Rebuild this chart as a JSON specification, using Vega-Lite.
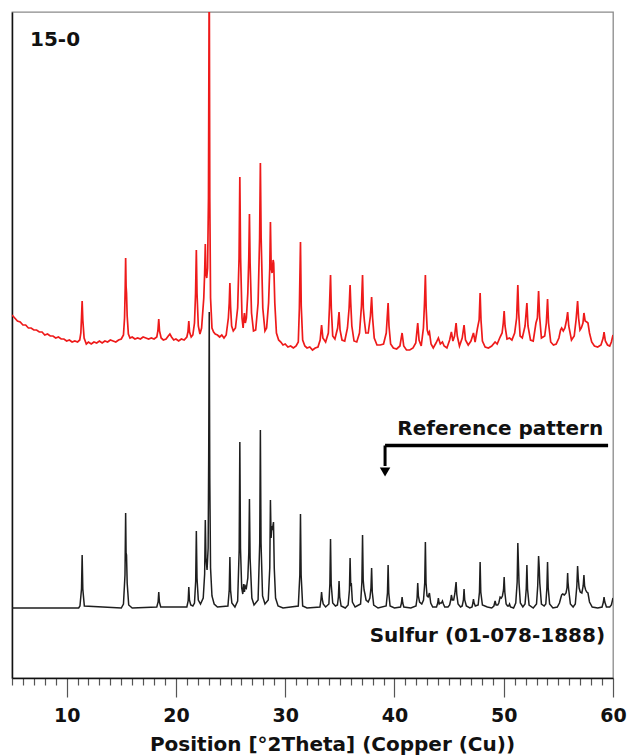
{
  "$schema": "https://vega.github.io/schema/vega-lite/v6.json",
  "width": 601,
  "height": 666,
  "autosize": "none",
  "padding": {"left": 12, "top": 12, "right": 16, "bottom": 77},
  "background": "white",
  "config": {
    "view": {"stroke": "#8a8a8a", "strokeWidth": 1.3},
    "font": "DejaVu Sans"
  },
  "datasets": {
    "ref": [
      {"t":5,"i":70},{"t":11.1,"i":70},{"t":11.22,"i":72},{"t":11.36,"i":89},{"t":11.42,"i":123},{"t":11.48,"i":89},{"t":11.62,"i":72},{"t":15.0,"i":70},{"t":15.2,"i":74},{"t":15.34,"i":103},{"t":15.4,"i":165},{"t":15.44,"i":125},{"t":15.48,"i":123},{"t":15.54,"i":95},{"t":15.68,"i":73},{"t":16.0,"i":70},{"t":18.25,"i":71},{"t":18.37,"i":76},{"t":18.43,"i":86},{"t":18.49,"i":76},{"t":18.61,"i":71},{"t":21.0,"i":71},{"t":21.12,"i":77},{"t":21.18,"i":91},{"t":21.24,"i":78},{"t":21.36,"i":73},{"t":21.55,"i":72},{"t":21.7,"i":75},{"t":21.81,"i":97},{"t":21.87,"i":147},{"t":21.93,"i":100},{"t":22.05,"i":78},{"t":22.25,"i":74},{"t":22.5,"i":80},{"t":22.63,"i":104},{"t":22.69,"i":158},{"t":22.75,"i":120},{"t":22.85,"i":108},{"t":22.95,"i":130},{"t":23.0,"i":220},{"t":23.05,"i":366},{"t":23.1,"i":200},{"t":23.17,"i":110},{"t":23.3,"i":82},{"t":23.5,"i":74},{"t":23.8,"i":71},{"t":24.76,"i":72},{"t":24.88,"i":88},{"t":24.94,"i":121},{"t":25.0,"i":88},{"t":25.12,"i":75},{"t":25.4,"i":71},{"t":25.65,"i":77},{"t":25.79,"i":128},{"t":25.85,"i":236},{"t":25.91,"i":130},{"t":26.02,"i":90},{"t":26.12,"i":84},{"t":26.2,"i":94},{"t":26.27,"i":86},{"t":26.35,"i":92},{"t":26.45,"i":90},{"t":26.58,"i":100},{"t":26.67,"i":125},{"t":26.73,"i":179},{"t":26.79,"i":120},{"t":26.95,"i":80},{"t":27.15,"i":73},{"t":27.52,"i":78},{"t":27.67,"i":135},{"t":27.73,"i":248},{"t":27.79,"i":135},{"t":27.93,"i":82},{"t":28.15,"i":74},{"t":28.45,"i":78},{"t":28.59,"i":110},{"t":28.65,"i":178},{"t":28.71,"i":140},{"t":28.78,"i":152},{"t":28.85,"i":150},{"t":28.93,"i":156},{"t":29.0,"i":110},{"t":29.12,"i":80},{"t":29.35,"i":72},{"t":29.8,"i":70},{"t":31.2,"i":72},{"t":31.34,"i":103},{"t":31.4,"i":164},{"t":31.46,"i":103},{"t":31.6,"i":72},{"t":32.0,"i":70},{"t":33.18,"i":71},{"t":33.27,"i":78},{"t":33.33,"i":86},{"t":33.39,"i":79},{"t":33.48,"i":74},{"t":33.7,"i":71},{"t":34.0,"i":74},{"t":34.09,"i":94},{"t":34.15,"i":139},{"t":34.21,"i":94},{"t":34.35,"i":75},{"t":34.6,"i":72},{"t":34.78,"i":73},{"t":34.87,"i":81},{"t":34.93,"i":97},{"t":34.99,"i":81},{"t":35.12,"i":72},{"t":35.5,"i":70},{"t":35.76,"i":73},{"t":35.88,"i":88},{"t":35.94,"i":120},{"t":36.0,"i":92},{"t":36.05,"i":95},{"t":36.15,"i":76},{"t":36.4,"i":71},{"t":36.9,"i":74},{"t":37.02,"i":96},{"t":37.08,"i":143},{"t":37.14,"i":98},{"t":37.22,"i":88},{"t":37.3,"i":84},{"t":37.4,"i":78},{"t":37.6,"i":76},{"t":37.75,"i":80},{"t":37.85,"i":90},{"t":37.91,"i":110},{"t":37.97,"i":86},{"t":38.1,"i":73},{"t":38.5,"i":70},{"t":39.24,"i":72},{"t":39.36,"i":85},{"t":39.42,"i":113},{"t":39.48,"i":85},{"t":39.6,"i":72},{"t":40.0,"i":70},{"t":40.55,"i":71},{"t":40.64,"i":75},{"t":40.7,"i":81},{"t":40.76,"i":75},{"t":40.86,"i":71},{"t":41.5,"i":70},{"t":41.97,"i":72},{"t":42.07,"i":80},{"t":42.13,"i":95},{"t":42.19,"i":82},{"t":42.3,"i":76},{"t":42.5,"i":74},{"t":42.66,"i":78},{"t":42.77,"i":95},{"t":42.83,"i":136},{"t":42.89,"i":95},{"t":42.98,"i":82},{"t":43.08,"i":81},{"t":43.2,"i":85},{"t":43.32,"i":75},{"t":43.5,"i":71},{"t":43.85,"i":71},{"t":43.96,"i":75},{"t":44.02,"i":80},{"t":44.1,"i":74},{"t":44.2,"i":75},{"t":44.3,"i":75},{"t":44.39,"i":77},{"t":44.48,"i":74},{"t":44.6,"i":71},{"t":44.9,"i":71},{"t":45.05,"i":73},{"t":45.15,"i":78},{"t":45.21,"i":83},{"t":45.3,"i":78},{"t":45.42,"i":78},{"t":45.52,"i":84},{"t":45.64,"i":96},{"t":45.7,"i":84},{"t":45.82,"i":74},{"t":46.05,"i":71},{"t":46.2,"i":72},{"t":46.31,"i":78},{"t":46.37,"i":89},{"t":46.43,"i":78},{"t":46.58,"i":72},{"t":46.9,"i":70},{"t":47.1,"i":71},{"t":47.18,"i":75},{"t":47.23,"i":79},{"t":47.29,"i":75},{"t":47.4,"i":72},{"t":47.66,"i":73},{"t":47.78,"i":86},{"t":47.84,"i":116},{"t":47.9,"i":86},{"t":48.05,"i":73},{"t":48.5,"i":71},{"t":48.9,"i":70},{"t":49.1,"i":72},{"t":49.21,"i":77},{"t":49.3,"i":73},{"t":49.45,"i":73},{"t":49.55,"i":75},{"t":49.67,"i":81},{"t":49.78,"i":80},{"t":49.88,"i":82},{"t":49.98,"i":88},{"t":50.04,"i":101},{"t":50.1,"i":86},{"t":50.22,"i":74},{"t":50.35,"i":72},{"t":50.45,"i":72},{"t":50.53,"i":74},{"t":50.62,"i":71},{"t":50.9,"i":70},{"t":51.1,"i":75},{"t":51.23,"i":96},{"t":51.29,"i":135},{"t":51.33,"i":120},{"t":51.4,"i":95},{"t":51.52,"i":75},{"t":51.75,"i":71},{"t":51.95,"i":74},{"t":52.06,"i":89},{"t":52.12,"i":113},{"t":52.18,"i":89},{"t":52.32,"i":73},{"t":52.7,"i":70},{"t":53.0,"i":74},{"t":53.11,"i":92},{"t":53.19,"i":122},{"t":53.25,"i":110},{"t":53.3,"i":95},{"t":53.45,"i":74},{"t":53.7,"i":72},{"t":53.85,"i":74},{"t":53.95,"i":90},{"t":54.01,"i":116},{"t":54.07,"i":90},{"t":54.2,"i":74},{"t":54.5,"i":70},{"t":54.9,"i":71},{"t":55.1,"i":75},{"t":55.22,"i":80},{"t":55.3,"i":83},{"t":55.4,"i":84},{"t":55.55,"i":83},{"t":55.7,"i":85},{"t":55.79,"i":90},{"t":55.85,"i":105},{"t":55.88,"i":96},{"t":55.95,"i":88},{"t":56.1,"i":74},{"t":56.35,"i":71},{"t":56.55,"i":74},{"t":56.69,"i":92},{"t":56.76,"i":112},{"t":56.82,"i":100},{"t":56.9,"i":90},{"t":57.0,"i":86},{"t":57.15,"i":85},{"t":57.27,"i":92},{"t":57.34,"i":103},{"t":57.4,"i":92},{"t":57.5,"i":88},{"t":57.6,"i":86},{"t":57.71,"i":85},{"t":57.85,"i":76},{"t":58.1,"i":71},{"t":58.6,"i":70},{"t":59.0,"i":71},{"t":59.12,"i":76},{"t":59.18,"i":81},{"t":59.25,"i":76},{"t":59.4,"i":71},{"t":59.7,"i":71},{"t":59.85,"i":73},{"t":60.0,"i":80}
    ],
    "exp": [
      {"t":5.0,"i":363},{"t":5.25,"i":360},{"t":5.5,"i":357},{"t":5.75,"i":356},{"t":6.0,"i":353},{"t":6.25,"i":353},{"t":6.5,"i":350},{"t":6.75,"i":350},{"t":7.0,"i":348},{"t":7.25,"i":348},{"t":7.5,"i":346},{"t":7.75,"i":346},{"t":8.0,"i":343},{"t":8.25,"i":344},{"t":8.5,"i":342},{"t":8.75,"i":342},{"t":9.0,"i":340},{"t":9.25,"i":341},{"t":9.5,"i":339},{"t":9.75,"i":339},{"t":10.0,"i":337},{"t":10.25,"i":338},{"t":10.5,"i":336},{"t":10.75,"i":337},{"t":11.0,"i":336},{"t":11.2,"i":338},
      {"t":11.3,"i":345},{"t":11.36,"i":360},{"t":11.42,"i":377},{"t":11.48,"i":358},{"t":11.6,"i":340},{"t":11.8,"i":334},{"t":12.0,"i":336},{"t":12.25,"i":334},{"t":12.5,"i":336},{"t":12.75,"i":335},{"t":13.0,"i":337},{"t":13.25,"i":335},{"t":13.5,"i":337},{"t":13.75,"i":336},{"t":14.0,"i":338},{"t":14.25,"i":337},{"t":14.5,"i":336},{"t":14.75,"i":338},{"t":15.0,"i":339},{"t":15.2,"i":343},
      {"t":15.3,"i":360},{"t":15.36,"i":390},{"t":15.4,"i":420},{"t":15.44,"i":392},{"t":15.48,"i":385},{"t":15.54,"i":362},{"t":15.65,"i":344},{"t":15.8,"i":340},{"t":16.0,"i":341},{"t":16.25,"i":339},{"t":16.5,"i":340},{"t":16.75,"i":339},{"t":17.0,"i":341},{"t":17.25,"i":340},{"t":17.5,"i":339},{"t":17.75,"i":340},{"t":18.0,"i":339},{"t":18.25,"i":341},
      {"t":18.35,"i":347},{"t":18.43,"i":359},{"t":18.5,"i":347},{"t":18.65,"i":340},{"t":18.85,"i":338},{"t":19.1,"i":339},{"t":19.3,"i":342},{"t":19.45,"i":344},{"t":19.6,"i":341},{"t":19.8,"i":338},{"t":20.0,"i":339},{"t":20.25,"i":337},{"t":20.5,"i":339},{"t":20.75,"i":338},{"t":21.0,"i":341},
      {"t":21.1,"i":346},{"t":21.18,"i":357},{"t":21.25,"i":346},{"t":21.4,"i":341},{"t":21.55,"i":343},
      {"t":21.7,"i":355},{"t":21.8,"i":385},{"t":21.87,"i":428},{"t":21.93,"i":385},{"t":22.05,"i":352},{"t":22.2,"i":344},{"t":22.35,"i":350},
      {"t":22.55,"i":380},{"t":22.63,"i":405},{"t":22.69,"i":434},{"t":22.74,"i":405},{"t":22.82,"i":400},{"t":22.9,"i":410},
      {"t":22.98,"i":480},{"t":23.05,"i":720},{"t":23.1,"i":480},{"t":23.17,"i":380},{"t":23.3,"i":350},{"t":23.45,"i":346},{"t":23.6,"i":344},{"t":23.8,"i":343},{"t":24.0,"i":341},{"t":24.2,"i":343},{"t":24.4,"i":340},{"t":24.6,"i":343},
      {"t":24.8,"i":360},{"t":24.88,"i":375},{"t":24.94,"i":395},{"t":25.0,"i":372},{"t":25.1,"i":352},{"t":25.25,"i":347},{"t":25.45,"i":350},
      {"t":25.65,"i":370},{"t":25.78,"i":420},{"t":25.85,"i":501},{"t":25.92,"i":420},{"t":26.05,"i":360},{"t":26.15,"i":350},
      {"t":26.22,"i":360},{"t":26.27,"i":365},{"t":26.35,"i":355},{"t":26.45,"i":360},
      {"t":26.58,"i":385},{"t":26.67,"i":420},{"t":26.73,"i":464},{"t":26.79,"i":415},{"t":26.92,"i":365},{"t":27.1,"i":347},{"t":27.3,"i":348},
      {"t":27.52,"i":375},{"t":27.66,"i":440},{"t":27.73,"i":515},{"t":27.8,"i":440},{"t":27.95,"i":370},{"t":28.15,"i":347},{"t":28.3,"i":350},
      {"t":28.48,"i":375},{"t":28.59,"i":410},{"t":28.65,"i":456},{"t":28.72,"i":410},{"t":28.8,"i":405},{"t":28.9,"i":418},{"t":28.95,"i":415},{"t":29.05,"i":375},{"t":29.2,"i":345},{"t":29.4,"i":338},{"t":29.6,"i":336},{"t":29.8,"i":333},{"t":30.0,"i":334},{"t":30.25,"i":331},{"t":30.5,"i":332},{"t":30.75,"i":330},{"t":31.0,"i":332},{"t":31.2,"i":336},
      {"t":31.3,"i":370},{"t":31.4,"i":436},{"t":31.47,"i":372},{"t":31.6,"i":338},{"t":31.8,"i":332},{"t":32.0,"i":330},{"t":32.25,"i":331},{"t":32.5,"i":328},{"t":32.75,"i":330},{"t":33.0,"i":331},{"t":33.2,"i":338},
      {"t":33.33,"i":353},{"t":33.45,"i":340},{"t":33.7,"i":336},{"t":33.95,"i":345},
      {"t":34.05,"i":370},{"t":34.15,"i":403},{"t":34.22,"i":370},{"t":34.35,"i":342},{"t":34.55,"i":339},{"t":34.8,"i":350},
      {"t":34.93,"i":366},{"t":35.02,"i":348},{"t":35.2,"i":338},{"t":35.45,"i":337},{"t":35.7,"i":350},
      {"t":35.85,"i":370},{"t":35.94,"i":393},{"t":36.0,"i":375},{"t":36.1,"i":352},{"t":36.3,"i":337},{"t":36.55,"i":336},{"t":36.8,"i":345},
      {"t":36.98,"i":372},{"t":37.08,"i":403},{"t":37.15,"i":370},{"t":37.25,"i":357},{"t":37.38,"i":345},{"t":37.6,"i":345},{"t":37.8,"i":362},
      {"t":37.91,"i":381},{"t":38.0,"i":360},{"t":38.15,"i":340},{"t":38.4,"i":333},{"t":38.7,"i":333},{"t":39.0,"i":334},{"t":39.25,"i":345},
      {"t":39.42,"i":375},{"t":39.5,"i":352},{"t":39.65,"i":334},{"t":39.9,"i":330},{"t":40.2,"i":329},{"t":40.5,"i":332},
      {"t":40.7,"i":345},{"t":40.85,"i":332},{"t":41.1,"i":328},{"t":41.4,"i":328},{"t":41.7,"i":330},{"t":41.95,"i":335},
      {"t":42.13,"i":355},{"t":42.25,"i":338},{"t":42.45,"i":332},{"t":42.65,"i":350},
      {"t":42.75,"i":375},{"t":42.83,"i":403},{"t":42.9,"i":370},{"t":43.0,"i":348},{"t":43.1,"i":344},
      {"t":43.2,"i":346},{"t":43.35,"i":334},{"t":43.55,"i":330},{"t":43.8,"i":335},
      {"t":44.02,"i":340},{"t":44.2,"i":334},{"t":44.39,"i":336},{"t":44.55,"i":332},{"t":44.8,"i":330},{"t":45.05,"i":338},
      {"t":45.21,"i":346},{"t":45.35,"i":337},{"t":45.5,"i":342},
      {"t":45.64,"i":355},{"t":45.75,"i":342},{"t":45.95,"i":332},{"t":46.2,"i":340},
      {"t":46.37,"i":353},{"t":46.5,"i":338},{"t":46.75,"i":333},{"t":47.0,"i":337},
      {"t":47.23,"i":345},{"t":47.38,"i":336},{"t":47.6,"i":350},
      {"t":47.75,"i":358},{"t":47.84,"i":385},{"t":47.92,"i":358},{"t":48.05,"i":337},{"t":48.3,"i":331},{"t":48.6,"i":330},{"t":48.9,"i":332},
      {"t":49.21,"i":336},{"t":49.4,"i":334},{"t":49.67,"i":341},{"t":49.85,"i":345},
      {"t":49.96,"i":355},{"t":50.04,"i":367},{"t":50.12,"i":352},{"t":50.3,"i":339},{"t":50.53,"i":340},{"t":50.75,"i":338},{"t":51.0,"i":345},
      {"t":51.18,"i":360},{"t":51.29,"i":393},{"t":51.37,"i":365},{"t":51.5,"i":342},{"t":51.7,"i":340},{"t":51.95,"i":352},
      {"t":52.12,"i":375},{"t":52.22,"i":352},{"t":52.45,"i":338},{"t":52.7,"i":337},{"t":52.95,"i":355},
      {"t":53.08,"i":360},{"t":53.19,"i":387},{"t":53.28,"i":362},{"t":53.45,"i":340},{"t":53.75,"i":342},
      {"t":53.9,"i":355},{"t":54.01,"i":379},{"t":54.1,"i":355},{"t":54.3,"i":336},{"t":54.55,"i":333},{"t":54.8,"i":334},{"t":55.05,"i":340},
      {"t":55.2,"i":348},{"t":55.3,"i":350},{"t":55.45,"i":347},{"t":55.6,"i":350},
      {"t":55.75,"i":358},{"t":55.85,"i":366},{"t":55.95,"i":352},{"t":56.2,"i":338},{"t":56.45,"i":342},
      {"t":56.62,"i":358},{"t":56.76,"i":377},{"t":56.85,"i":360},{"t":56.98,"i":348},{"t":57.1,"i":350},
      {"t":57.25,"i":355},{"t":57.34,"i":365},{"t":57.45,"i":357},{"t":57.6,"i":356},{"t":57.71,"i":355},{"t":57.85,"i":345},{"t":58.05,"i":336},{"t":58.3,"i":332},{"t":58.6,"i":331},{"t":58.9,"i":333},
      {"t":59.1,"i":340},{"t":59.18,"i":346},{"t":59.3,"i":337},{"t":59.5,"i":333},{"t":59.7,"i":332},{"t":59.85,"i":336},{"t":60.0,"i":343}
    ],
    "labelsLeft": [
      {"t":6.65,"i":632,"txt":"15-0"}
    ],
    "labelsRight": [
      {"t":59.1,"i":243.5,"txt":"Reference pattern"},
      {"t":59.27,"i":36.5,"txt":"Sulfur (01-078-1888)"}
    ],
    "arrowH": [{"t1":39.14,"t2":59.55,"i":232.5}],
    "arrowV": [{"t":39.14,"i1":232.5,"i2":212}],
    "arrowHead": [{"t":39.14,"i":206}]
  },
  "encoding": {
    "x": {
      "field": "t",
      "type": "quantitative",
      "scale": {"domain": [5, 60], "nice": false, "zero": false},
      "axis": {
        "title": "Position [°2Theta] (Copper (Cu))",
        "values": [5,6,7,8,9,10,11,12,13,14,15,16,17,18,19,20,21,22,23,24,25,26,27,28,29,30,31,32,33,34,35,36,37,38,39,40,41,42,43,44,45,46,47,48,49,50,51,52,53,54,55,56,57,58,59,60],
        "labelExpr": "datum.value % 10 === 0 ? datum.label : ''",
        "tickSize": {"condition": {"test": "datum.value % 10 === 0", "value": 19}, "value": 7},
        "tickColor": "#555555",
        "tickWidth": 1.2,
        "domainColor": "#111111",
        "domainWidth": 1.5,
        "grid": false,
        "labelOverlap": false,
        "labelFlush": false,
        "labelBound": false,
        "labelFont": "DejaVu Sans",
        "labelFontWeight": "bold",
        "labelFontSize": 19,
        "labelColor": "#111111",
        "labelPadding": 9,
        "titleFont": "DejaVu Sans",
        "titleFontWeight": "bold",
        "titleFontSize": 20,
        "titleColor": "#111111",
        "titleX": 320,
        "titleY": 72,
        "titleAlign": "center",
        "titleBaseline": "alphabetic"
      }
    }
  },
  "layer": [
    {
      "data": {"name": "exp"},
      "mark": {"type": "line", "color": "#ee1a1a", "strokeWidth": 1.7, "clip": true},
      "encoding": {
        "y": {
          "field": "i",
          "type": "quantitative",
          "scale": {"domain": [0, 666], "nice": false, "zero": false},
          "axis": {"title": null, "labels": false, "ticks": false, "grid": false, "domain": true, "domainColor": "#111111", "domainWidth": 1.5}
        }
      }
    },
    {
      "data": {"name": "ref"},
      "mark": {"type": "line", "color": "#1e1e1e", "strokeWidth": 1.5, "clip": true},
      "encoding": {"y": {"field": "i", "type": "quantitative"}}
    },
    {
      "data": {"name": "arrowH"},
      "mark": {"type": "rule", "color": "#000000", "strokeWidth": 3.5},
      "encoding": {"x": {"field": "t1", "type": "quantitative"}, "x2": {"field": "t2"}, "y": {"field": "i", "type": "quantitative"}}
    },
    {
      "data": {"name": "arrowV"},
      "mark": {"type": "rule", "color": "#000000", "strokeWidth": 3},
      "encoding": {"y": {"field": "i1", "type": "quantitative"}, "y2": {"field": "i2"}}
    },
    {
      "data": {"name": "arrowHead"},
      "mark": {"type": "point", "shape": "triangle-down", "filled": true, "color": "#000000", "size": 110, "opacity": 1},
      "encoding": {"y": {"field": "i", "type": "quantitative"}}
    },
    {
      "data": {"name": "labelsLeft"},
      "mark": {"type": "text", "font": "DejaVu Sans", "fontWeight": "bold", "fontSize": 20, "color": "#111111", "baseline": "alphabetic", "align": "left"},
      "encoding": {
        "y": {"field": "i", "type": "quantitative"},
        "text": {"field": "txt"}
      }
    },
    {
      "data": {"name": "labelsRight"},
      "mark": {"type": "text", "font": "DejaVu Sans", "fontWeight": "bold", "fontSize": 20, "color": "#111111", "baseline": "alphabetic", "align": "right"},
      "encoding": {
        "y": {"field": "i", "type": "quantitative"},
        "text": {"field": "txt"}
      }
    }
  ]
}
